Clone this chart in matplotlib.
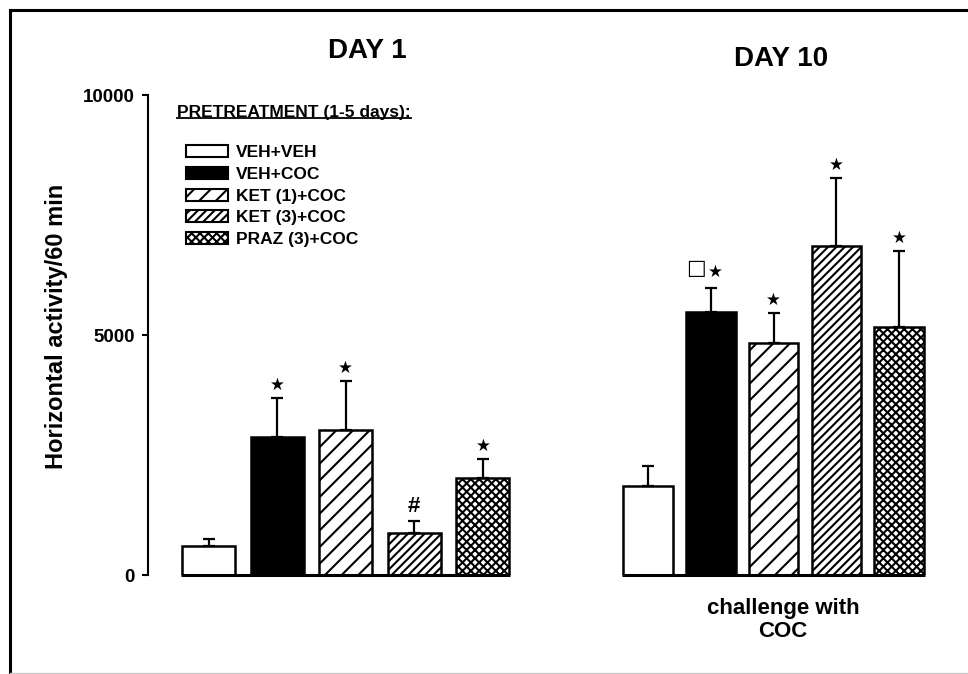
import numpy as np
import matplotlib.pyplot as plt
from matplotlib.patches import Patch
from matplotlib.lines import Line2D

treatments = ['VEH+VEH', 'VEH+COC', 'KET (1)+COC', 'KET (3)+COC', 'PRAZ (3)+COC']
day1_mean = [600, 2880, 3020, 880, 2020]
day1_sem = [150, 810, 1020, 250, 400]
day10_mean = [1850, 5480, 4830, 6850, 5170]
day10_sem = [420, 500, 630, 1420, 1580]
day1_marks = ['', '*', '*', '#', '*']
day10_marks = ['', 'sq*', '*', '*', '*']
yticks = [0, 5000, 10000]

faces = ['white', 'black', 'white', 'white', 'white']
hatches = ['', '', '//', '////', 'xxxx']

plt.rcParams['font.family'] = ['Liberation Sans', 'DejaVu Sans']
plt.rcParams['font.weight'] = 'bold'
plt.rcParams['hatch.linewidth'] = 1.5

W, H = 968, 674
fig = plt.figure(figsize=(W / 100, H / 100), dpi=100)
# x axis in figure-pixel units so the two groups can be laid out freely
ax = fig.add_axes([148 / W, 99 / H, 800 / W, 480 / H])
ax.set_xlim(148, 948)
ax.set_ylim(0, 10000)

x1 = 208.5 + 68.6 * np.arange(5)
x2 = 648 + 62.75 * np.arange(5)

for xs, width, mean, sem in [(x1, 53, day1_mean, day1_sem), (x2, 49.5, day10_mean, day10_sem)]:
    for x, m, f, h in zip(xs, mean, faces, hatches):
        ax.bar(x, m, width, color=f, edgecolor='black', hatch=h, linewidth=1.8, zorder=2)
    ax.errorbar(xs, mean, yerr=[np.zeros(5), sem], fmt='none', ecolor='black',
                elinewidth=1.6, capsize=4.3, capthick=1.6, zorder=3)

# baselines for each group
ax.hlines(0, x1[0] - 27.5, x1[-1] + 27.5, color='black', lw=2.2, clip_on=False, zorder=4)
ax.hlines(0, x2[0] - 26, x2[-1] + 25.5, color='black', lw=2.2, clip_on=False, zorder=4)


def mark(x, top, m):
    if m == '*':
        ax.annotate('★', xy=(x, top), xytext=(0, 9.5), textcoords='offset points',
                    ha='center', va='center', fontsize=12, family='DejaVu Sans')
    elif m == '#':
        ax.annotate('#', xy=(x, top), xytext=(0, 10.5), textcoords='offset points',
                    ha='center', va='center', fontsize=16)
    elif m == 'sq*':
        ax.annotate('★', xy=(x, top), xytext=(3.5, 11.5), textcoords='offset points',
                    ha='center', va='center', fontsize=12, family='DejaVu Sans')
        ax.annotate('□', xy=(x, top), xytext=(-10.5, 14.5), textcoords='offset points',
                    ha='center', va='center', fontsize=15, family='DejaVu Sans',
                    fontweight='bold')


for xs, mean, sem, marks in [(x1, day1_mean, day1_sem, day1_marks),
                             (x2, day10_mean, day10_sem, day10_marks)]:
    for x, m, s, mk in zip(xs, mean, sem, marks):
        mark(x, m + s, mk)

for side in ['top', 'right', 'bottom']:
    ax.spines[side].set_visible(False)
ax.spines['left'].set_linewidth(1.5)
ax.spines['left'].set_bounds(0, 10000)
ax.set_xticks([])
ax.set_yticks(yticks)
ax.set_yticklabels([str(t) for t in yticks], fontsize=13.5, fontweight='bold')
ax.tick_params(axis='y', length=4.5, width=1.5, pad=5)
ax.set_ylabel('Horizontal activity/60 min', fontsize=17, fontweight='bold')
ax.yaxis.set_label_coords(-0.1, 0.517)

fig.text(367 / W, 1 - 51 / H, 'DAY 1', fontsize=20, fontweight='bold', ha='center', va='center')
fig.text(781 / W, 1 - 59 / H, 'DAY 10', fontsize=20, fontweight='bold', ha='center', va='center')
fig.text(783 / W, 1 - 620 / H, 'challenge with\nCOC', fontsize=16, fontweight='bold',
         ha='center', va='center', linespacing=1.15)

# legend
handles = [Patch(facecolor=f, edgecolor='black', hatch=h, linewidth=1.5) for f, h in zip(faces, hatches)]
fig.legend(handles, treatments, loc='upper left', bbox_to_anchor=(186 / W, 1 - 145 / H),
           frameon=False, prop={'size': 12.5, 'weight': 'bold'}, handlelength=2.4,
           handleheight=0.7, handletextpad=0.5, labelspacing=0.38, borderpad=0, borderaxespad=0)
title = fig.text(177 / W, 1 - 112 / H, 'PRETREATMENT (1-5 days):', fontsize=12.5,
                 fontweight='bold', ha='left', va='center')
fig.canvas.draw()
bb = title.get_window_extent()
fig.add_artist(Line2D([bb.x0 / W, bb.x1 / W], [(bb.y0 + 2) / H] * 2, color='black', lw=1.3))

# scan frame
fig.add_artist(Line2D([10 / W, 1], [1 - 10 / H] * 2, color='black', lw=2.2))
fig.add_artist(Line2D([10 / W] * 2, [0, 1 - 10 / H], color='black', lw=2.2))
fig.add_artist(Line2D([10 / W, 1], [1.5 / H] * 2, color='#cccccc', lw=1))

fig.savefig('out.png', dpi=100)
